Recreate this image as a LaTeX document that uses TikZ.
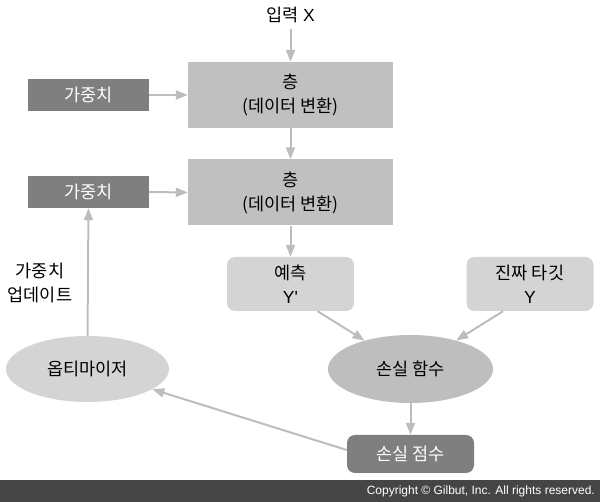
\documentclass[tikz,border=0pt]{standalone}
\usepackage{fontspec}
\setmainfont{Liberation Sans}
\newfontfamily\kr{Noto Sans CJK KR}
\newfontfamily\lat{Liberation Sans}
\usetikzlibrary{shapes.geometric,arrows.meta}
\definecolor{layerc}{HTML}{C0C0C0}
\definecolor{weightc}{HTML}{7F7F7F}
\definecolor{lightc}{HTML}{D4D4D4}
\definecolor{lossc}{HTML}{BEBEBE}
\definecolor{arrc}{HTML}{BDBDBD}
\definecolor{barc}{HTML}{454545}
\tikzset{
  base/.style={inner sep=0pt, align=center, font=\fontsize{17.5}{24}\selectfont},
  layerbox/.style={base, fill=layerc, minimum width=205pt, minimum height=66pt},
  weightbox/.style={base, fill=weightc, text=white, minimum width=121pt, minimum height=32pt},
  softbox/.style={base, fill=lightc, rounded corners=8pt, minimum width=127pt, minimum height=54pt},
  darkbox/.style={base, fill=weightc, text=white, rounded corners=8pt, minimum width=127pt, minimum height=38pt},
  oval/.style={base, ellipse, inner sep=0pt},
  arr/.style={draw=arrc, line width=2pt, -{Triangle[length=12pt,width=9pt]}},
  label/.style={base}
}
\begin{document}
\begin{tikzpicture}[x=1pt,y=-1pt]
\useasboundingbox (0,0) rectangle (600,502);
\fill[barc] (0,480) rectangle (600,502);
\node[anchor=east, text=white, inner sep=0pt, font=\fontsize{12}{14}\selectfont] (copy) at (595,491) {Copyright © Gilbut, Inc. All rights reserved.};

\node[label] (in) at (290.5,15) {{\kr 입력} {\lat X}};
\node[layerbox] (L1) at (290.5,95) {{\kr 층}\\{\kr (데이터 변환)}};
\node[layerbox] (L2) at (290.5,192.5) {{\kr 층}\\{\kr (데이터 변환)}};
\node[weightbox] (W1) at (88.5,95) {\kr 가중치};
\node[weightbox] (W2) at (88.5,192) {\kr 가중치};
\node[softbox] (pred) at (290.5,284) {{\kr 예측}\\{\lat Y'}};
\node[softbox] (target) at (530,284) {{\kr 진짜 타깃}\\{\lat Y}};
\node[oval, fill=lossc, minimum width=165pt, minimum height=68pt] (loss) at (410.5,369) {\kr 손실 함수};
\node[oval, fill=lightc, minimum width=163pt, minimum height=66pt] (opt) at (87.5,369) {\kr 옵티마이저};
\node[darkbox] (score) at (410.5,454) {\kr 손실 점수};
\node[label] (upd) at (40,283) {{\kr 가중치}\\{\kr 업데이트}};

\coordinate (inarr) at (290.5,29);
\draw[arr] (inarr) -- (L1.north);
\draw[arr] (W1.east) -- (L1.west);
\draw[arr] (L1.south) -- (L2.north);
\draw[arr] (W2.east) -- (L2.west);
\draw[arr] (L2.south) -- (pred.north);
\draw[arr] ([xshift=27pt]pred.south) -- (loss);
\draw[arr] ([xshift=-27pt]target.south) -- (loss);
\draw[arr] (loss.south) -- (score.north);
\draw[arr] ([yshift=4pt]score.west) -- (opt);
\draw[arr] (opt.north) -- (W2.south);
\end{tikzpicture}
\end{document}
